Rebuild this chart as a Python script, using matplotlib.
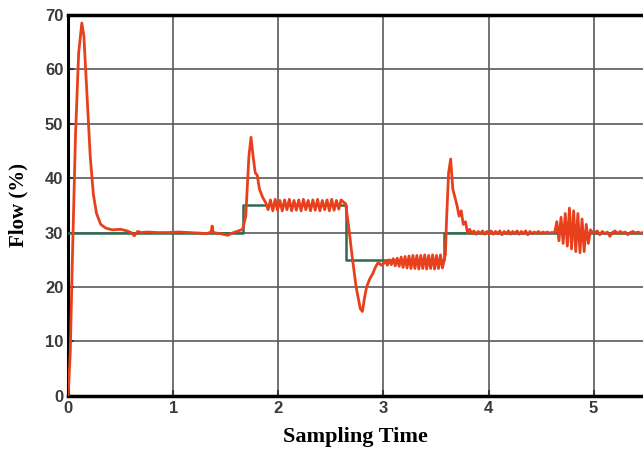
"""
Flow response vs sampling time: setpoint (green) and measured flow (red).
"""

import matplotlib.pyplot as plt
import numpy as np

# setpoint steps
sp_time = [0, 1.66, 1.66, 2.64, 2.64, 3.58, 3.58, 5.47]
sp_flow = [30, 30, 35, 35, 25, 25, 30, 30]

start_time = [0, 0.02, 0.04, 0.07, 0.10, 0.13, 0.15, 0.18, 0.21, 0.24, 0.27,
              0.31, 0.36, 0.42, 0.50, 0.56, 0.60, 0.63, 0.66, 0.70, 0.75, 0.85,
              0.95, 1.05, 1.15, 1.25, 1.32, 1.36, 1.37, 1.38, 1.45, 1.52, 1.56,
              1.62, 1.66, 1.69, 1.72, 1.74, 1.76, 1.78, 1.80, 1.82, 1.85]
start_flow = [0, 8, 25, 48, 63, 68.5, 66, 55, 44, 37, 33.5,
              31.5, 30.8, 30.5, 30.6, 30.3, 30.0, 29.4, 30.2, 30.0, 30.1, 30.0,
              30.0, 30.1, 30.0, 29.9, 29.8, 30.1, 31.2, 30.0, 29.8, 29.5, 29.9,
              30.3, 30.6, 33, 44, 47.5, 44, 41, 40.5, 38, 36.5]

rip35_flow = [35.5, 34.2, 36.0, 34.0, 36.1, 34.1, 35.9, 34.0, 36.0, 34.2,
              36.1, 34.0, 35.9, 34.1, 36.0, 34.0, 36.1, 34.2, 35.9, 34.0,
              36.0, 34.1, 36.1, 34.0, 35.9, 34.2, 36.0, 34.0, 36.1, 34.1,
              35.9, 34.3, 36.0, 35.6]

drop_time = [2.64, 2.67, 2.70, 2.74, 2.78, 2.80, 2.82, 2.84, 2.87, 2.90,
             2.92, 2.95, 2.98]
drop_flow = [35.3, 31, 26, 20, 16, 15.5, 18, 20, 21.5, 22.5,
             23.5, 24.5, 24.0]

rip25_flow = [24.3, 24.8, 24.0, 25.0, 24.1, 25.2, 23.9, 25.3, 23.8, 25.5,
              23.6, 25.6, 23.5, 25.7, 23.4, 25.8, 23.4, 25.8, 23.3, 25.8,
              23.4, 25.9, 23.3, 25.8, 23.4, 25.9, 23.3, 25.8, 23.4, 25.9,
              23.5, 25.2]

kick_time = [3.59, 3.60, 3.62, 3.64, 3.66, 3.68, 3.70, 3.72, 3.74, 3.76,
             3.78, 3.80]
kick_flow = [26, 32, 41, 43.5, 38, 36.5, 35, 33, 34, 31.5, 32, 30]

calm_flow = [30.6, 29.8, 30.3, 29.7, 30.2, 29.8, 30.3, 29.7, 30.2, 29.8,
             30.3, 29.7, 30.2, 29.8, 30.3, 29.6, 30.2, 29.8, 30.3, 29.7,
             30.2, 29.8, 30.3, 29.7, 30.2, 29.8, 30.3, 29.6, 30.2, 29.8,
             30.1, 29.9, 30.2, 29.8, 30.1, 29.9, 30.1, 29.9, 30.0, 30.0]

burst_flow = [30, 32.0, 28.5, 32.8, 28.0, 33.5, 27.5, 34.5, 27.0, 34.0,
              26.5, 33.5, 26.3, 32.5, 26.5, 31.5, 28.0, 30.5, 30.0]

tail_flow = [30.0, 30.3, 29.6, 30.2, 29.8, 30.1, 29.3, 30.0, 30.3, 29.8,
             30.2, 29.9, 30.1, 29.6, 30.0, 30.2, 29.9, 30.1, 29.9, 30.0]

flow_time = np.concatenate([
    start_time,
    np.linspace(1.88, 2.62, len(rip35_flow)),
    drop_time,
    np.linspace(3.0, 3.58, len(rip25_flow)),
    kick_time,
    np.linspace(3.82, 4.62, len(calm_flow)),
    np.linspace(4.63, 4.99, len(burst_flow)),
    np.linspace(5.01, 5.47, len(tail_flow)),
])
flow = np.concatenate([start_flow, rip35_flow, drop_flow, rip25_flow,
                       kick_flow, calm_flow, burst_flow, tail_flow])

fig = plt.figure(figsize=(6.43, 4.63), dpi=100)
ax = fig.add_axes([0.106, 0.145, 0.894, 0.823])

ax.plot(sp_time, sp_flow, color="#2f6b50", linewidth=1.8, zorder=3)
ax.plot(flow_time, flow, color="#e8401c", linewidth=2.0, zorder=4)

ax.set_xlim(0, 5.47)
ax.set_ylim(0, 70)
ax.set_xticks([0, 1, 2, 3, 4, 5])
ax.set_yticks([0, 10, 20, 30, 40, 50, 60, 70])
ax.grid(True, color="#5a5a5a", linewidth=1.2)
ax.set_axisbelow(True)

ax.spines["right"].set_visible(False)
ax.spines["top"].set_linewidth(2.5)
ax.spines["left"].set_linewidth(2.2)
ax.spines["bottom"].set_linewidth(2.5)
ax.tick_params(direction="in", length=4, width=1.5, colors="#3a3a3a",
               labelsize=12)
for lab in ax.get_xticklabels() + ax.get_yticklabels():
    lab.set_fontweight("bold")
    lab.set_family("Liberation Sans")

ax.set_xlabel("Sampling Time", fontsize=16, fontweight="bold",
              family="Liberation Serif", labelpad=8)
ax.set_ylabel("Flow (%)", fontsize=15, fontweight="bold",
              family="Liberation Serif", labelpad=12)

fig.savefig("out.png", dpi=100)
